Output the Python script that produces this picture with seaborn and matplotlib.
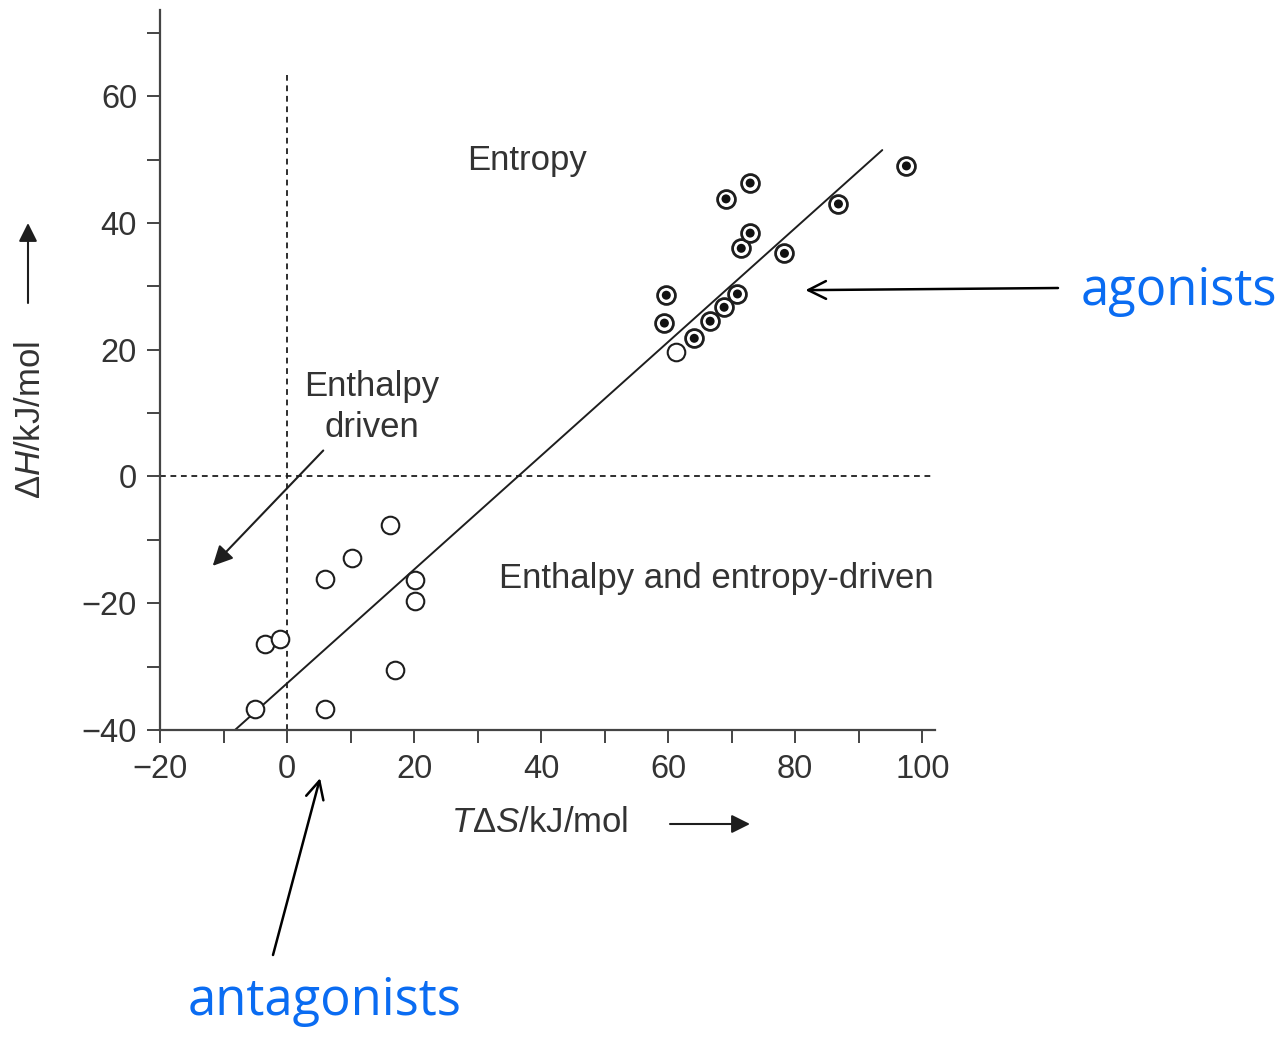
import numpy as np
import pandas as pd
import matplotlib
matplotlib.use("Agg")
import matplotlib.pyplot as plt
import seaborn as sns

# ---- data ----
antag_x = [-5.0, -3.5, -1.1, 6.0, 10.2, 16.2, 20.2, 20.2, 17.0, 6.0, 61.3]
antag_y = [-36.7, -26.4, -25.6, -16.1, -12.8, -7.6, -16.4, -19.6, -30.6, -36.7, 19.6]

agon_x = [59.7, 59.4, 64.1, 66.6, 68.8, 70.9, 71.5, 72.9, 69.1, 72.9, 78.3, 86.8, 97.5]
agon_y = [28.6, 24.2, 21.8, 24.5, 26.7, 28.8, 36.0, 38.4, 43.8, 46.3, 35.2, 43.0, 49.0]

fit_x = [-8.2, 93.7]
fit_y = [-40.0, 51.5]

xticks = list(range(-20, 101, 10))
yticks = list(range(-40, 71, 10))
xlabels = ["\u221220", "", "0", "", "20", "", "40", "", "60", "", "80", "", "100"]
ylabels = ["\u221240", "", "\u221220", "", "0", "", "20", "", "40", "", "60", ""]

# ---- style ----
sns.set_style("ticks")
plt.rcParams['font.family'] = ['Liberation Sans', 'DejaVu Sans']
plt.rcParams['mathtext.fontset'] = 'custom'
plt.rcParams['mathtext.rm'] = 'Liberation Sans'
plt.rcParams['mathtext.it'] = 'Liberation Sans:italic'
plt.rcParams['mathtext.bf'] = 'Liberation Sans:bold'

TXT = '#333333'
AX = '#444444'
INK = '#1e1e1e'

W, H = 1278, 1038
fig = plt.figure(figsize=(W / 100, H / 100), dpi=100)
ax = fig.add_axes([160 / W, 1 - 730 / H, (935 - 160) / W, (730 - 10) / H])

# dashed reference lines
ax.plot([0, 0], [-40, 63.3], ls=(0, (3.2, 2.6)), lw=1.3, color=INK, zorder=1)
ax.plot([-20, 101.3], [0, 0], ls=(0, (3.2, 2.6)), lw=1.3, color=INK, zorder=1)

# fit line
sns.lineplot(x=fit_x, y=fit_y, ax=ax, color=INK, lw=1.4, zorder=2)

df_a = pd.DataFrame({"x": antag_x, "y": antag_y})
df_g = pd.DataFrame({"x": agon_x, "y": agon_y})
sns.scatterplot(data=df_a, x="x", y="y", ax=ax, s=160, facecolor="white",
                edgecolor=INK, linewidth=1.5, zorder=3)
sns.scatterplot(data=df_g, x="x", y="y", ax=ax, s=165, facecolor="white",
                edgecolor=INK, linewidth=2.0, zorder=3)
sns.scatterplot(data=df_g, x="x", y="y", ax=ax, s=42, color="#111111",
                edgecolor="none", linewidth=0, zorder=4)

ax.set_xlim(-20, 102.0)
ax.set_ylim(-40, 73.6)
ax.set_xticks(xticks)
ax.set_xticklabels(xlabels)
ax.set_yticks(yticks)
ax.set_yticklabels(ylabels)
ax.set_xlabel("")
ax.set_ylabel("")
sns.despine(ax=ax)
for s in ["left", "bottom"]:
    ax.spines[s].set_linewidth(1.6)
    ax.spines[s].set_color(AX)
ax.tick_params(direction="out", length=9.5, width=1.4, color=AX,
               labelsize=23.5, labelcolor=TXT)
ax.tick_params(axis="y", pad=7)
ax.tick_params(axis="x", pad=8)

# region labels
FS = 25
ax.text(37.8, 49.9, "Entropy", fontsize=FS, color=TXT, ha="center", va="center")
ax.text(13.4, 10.9, "Enthalpy\ndriven", fontsize=FS, color=TXT, ha="center",
        va="center", linespacing=1.3)
ax.text(67.6, -16.1, "Enthalpy and entropy-driven", fontsize=FS, color=TXT,
        ha="center", va="center")

# enthalpy driven arrow
ax.annotate("", xy=(-11.7, -14.1), xytext=(5.7, 4.1),
            arrowprops=dict(arrowstyle="-|>", color=INK, lw=1.5, mutation_scale=30,
                            shrinkA=0, shrinkB=0))

# axis labels
fig.text(540 / W, 1 - 822 / H, r"$T\Delta S$/kJ/mol", fontsize=FS, color=TXT,
         ha="center", va="center")
fig.text(30 / W, 1 - 420 / H, r"$\Delta H$/kJ/mol", fontsize=FS, color=TXT,
         ha="center", va="center", rotation=90)

# axis-label arrows (figure pixels)
ax.annotate("", xy=(750, H - 824), xytext=(670, H - 824), xycoords="figure pixels",
            textcoords="figure pixels",
            arrowprops=dict(arrowstyle="-|>", color=INK, lw=1.5, mutation_scale=28,
                            shrinkA=0, shrinkB=0), annotation_clip=False)
ax.annotate("", xy=(28, H - 223), xytext=(28, H - 303), xycoords="figure pixels",
            textcoords="figure pixels",
            arrowprops=dict(arrowstyle="-|>", color=INK, lw=1.5, mutation_scale=28,
                            shrinkA=0, shrinkB=0), annotation_clip=False)

# blue annotations
BLUE = '#0a6cf2'
fig.text(1081 / W, 1 - 305 / H, "agonists", fontsize=36.5, color=BLUE,
         family=["Open Sans", "DejaVu Sans"], ha="left", va="baseline")
fig.text(188 / W, 1 - 1015 / H, "antagonists", fontsize=36.5, color=BLUE,
         family=["Open Sans", "DejaVu Sans"], ha="left", va="baseline")

ax.annotate("", xy=(81.6, 29.4), xycoords="data",
            xytext=(1058, H - 288), textcoords="figure pixels",
            arrowprops=dict(arrowstyle="->", color="black", lw=1.8, mutation_scale=32,
                            shrinkA=0, shrinkB=0), annotation_clip=False)
ax.annotate("", xy=(5.2, -47.6), xycoords="data",
            xytext=(273, H - 955), textcoords="figure pixels",
            arrowprops=dict(arrowstyle="->", color="black", lw=1.8, mutation_scale=32,
                            shrinkA=0, shrinkB=0), annotation_clip=False)

fig.savefig("out.png", dpi=100)
